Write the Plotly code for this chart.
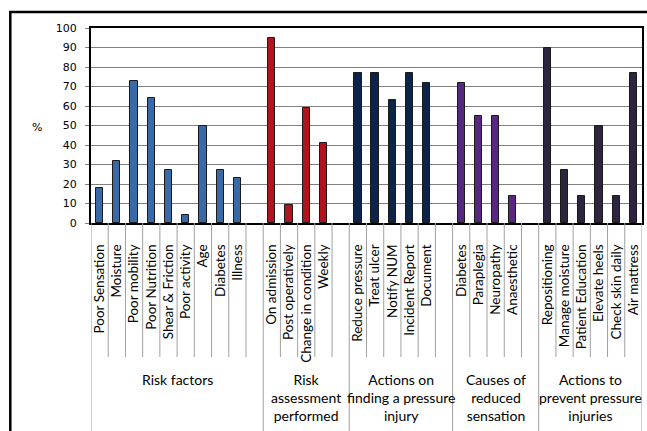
import plotly.graph_objects as go

group_names = [
    "Risk factors",
    "Risk<br>assessment<br>performed",
    "Actions on<br>finding a pressure<br>injury",
    "Causes of<br>reduced<br>sensation",
    "Actions to<br>prevent pressure<br>injuries",
]
risk_factors = ["Poor Sensation", "Moisture", "Poor mobility", "Poor Nutrition",
                "Shear & Friction", "Poor activity", "Age", "Diabetes", "Illness"]
risk_factors_vals = [18, 32, 73, 64, 27, 4, 50, 27, 23]
assessment = ["On admission", "Post operatively", "Change in condition", "Weekly"]
assessment_vals = [95, 9, 59, 41]
actions_found = ["Reduce pressure", "Treat ulcer", "Notify NUM", "Incident Report", "Document"]
actions_found_vals = [77, 77, 63, 77, 72]
causes = ["Diabetes", "Paraplegia", "Neuropathy", "Anaesthetic"]
causes_vals = [72, 55, 55, 14]
prevent = ["Repositioning", "Manage moisture", "Patient Education", "Elevate heels",
           "Check skin daily", "Air mattress"]
prevent_vals = [90, 27, 14, 50, 14, 77]

group_cats = [risk_factors, assessment, actions_found, causes, prevent]
group_vals = [risk_factors_vals, assessment_vals, actions_found_vals, causes_vals, prevent_vals]
group_colors = ["#3A69A8", "#B0151F", "#0C2449", "#58287F", "#2D2540"]
group_gap = [1, 1, 1, 1, 0]

fig = go.Figure()
tickvals, ticktext = [], []
boundaries_group = [-0.5]
pos = 0
for cats, vals, col, gap in zip(group_cats, group_vals, group_colors, group_gap):
    xs = list(range(pos, pos + len(cats)))
    fig.add_trace(go.Bar(x=xs, y=vals, width=0.42,
                         marker=dict(color=col, line=dict(color="#1a1a1a", width=1)),
                         showlegend=False))
    tickvals += xs
    ticktext += cats
    pos += len(cats) + gap
    boundaries_group.append(pos - 0.5)
n_slots = pos

# pixel geometry helpers (paper coords)
plot_l, plot_r, plot_t, plot_b = 91, 644, 28, 223
H = plot_b - plot_t
W = plot_r - plot_l
def py(p):
    return (plot_b - p) / H
def px(p):
    return (p - plot_l) / W

shapes = []
for k in range(n_slots + 1):
    b = k - 0.5
    if b in boundaries_group:
        continue
    shapes.append(dict(type="line", xref="x", yref="paper", x0=b, x1=b,
                       y0=0, y1=py(357), line=dict(color="#A0A0A0", width=1)))
for b in boundaries_group:
    shapes.append(dict(type="line", xref="x", yref="paper", x0=b, x1=b,
                       y0=0, y1=py(445), line=dict(color="#A0A0A0", width=1)))
# outer chart frame
shapes.append(dict(type="rect", xref="paper", yref="paper",
                   x0=px(10), x1=px(660), y0=py(460), y1=py(12),
                   line=dict(color="black", width=2.5)))

annotations = []
for i, name in enumerate(group_names):
    c = (boundaries_group[i] + boundaries_group[i + 1]) / 2
    annotations.append(dict(x=c, xref="x", y=py(369), yref="paper", text=name,
                            showarrow=False, yanchor="top", xanchor="center",
                            font=dict(family="Lato", size=14, color="black")))
annotations.append(dict(x=px(37), xref="paper", y=py(128), yref="paper", text="%",
                        showarrow=False, xanchor="center", yanchor="middle",
                        font=dict(family="DejaVu Sans", size=11, color="black")))
fig.update_layout(
    width=647, height=431,
    margin=dict(l=plot_l, r=647 - plot_r, t=plot_t, b=431 - plot_b),
    paper_bgcolor="white", plot_bgcolor="white",
    bargap=0, shapes=shapes, annotations=annotations,
    xaxis=dict(range=[-0.5, n_slots - 0.5], tickvals=tickvals, ticktext=ticktext,
               tickangle=-90, ticks="", showgrid=False, showline=True, mirror=True,
               linecolor="black", linewidth=2, ticklabelstandoff=14,
               tickfont=dict(family="Lato", size=13.5, color="black"), fixedrange=True),
    yaxis=dict(range=[0, 100], dtick=10, showgrid=True, gridcolor="#808080", gridwidth=1,
               showline=True, mirror=True, linecolor="black", linewidth=2,
               ticks="outside", ticklen=4, tickcolor="#808080",
               ticklabelstandoff=6, zeroline=False,
               tickfont=dict(family="DejaVu Sans", size=11, color="black")),
)
fig.write_html("out.html")
